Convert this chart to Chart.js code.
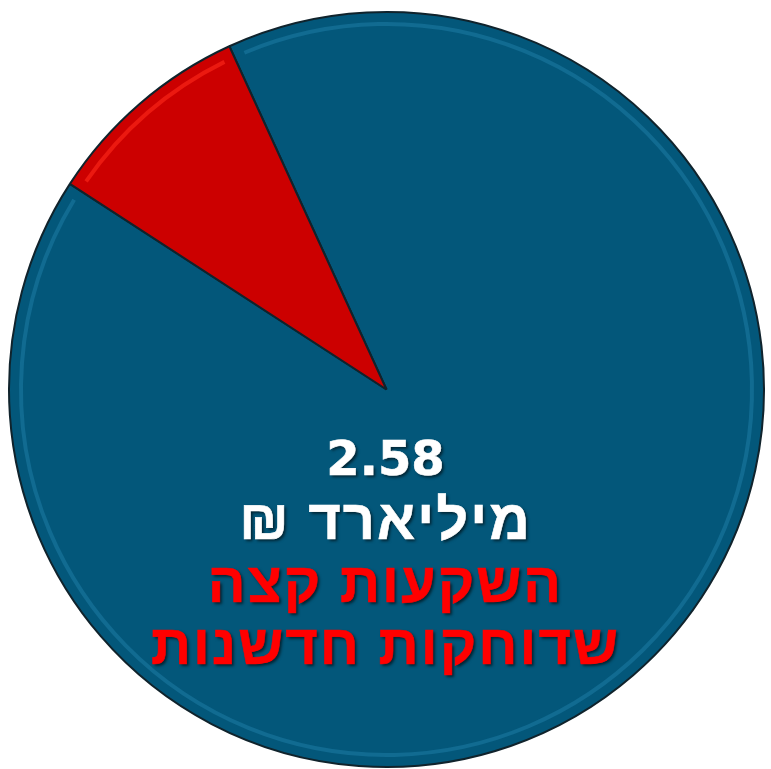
<!DOCTYPE html>
<html>
<head>
<meta charset="utf-8">
<script src="https://cdn.jsdelivr.net/npm/chart.js@4"></script>
<style>
  html, body { margin: 0; padding: 0; background: #fff; }
  #wrap { position: relative; width: 771px; height: 769px; }
  #labels {
    position: absolute; left: 0; top: 0; width: 771px;
    text-align: center; direction: rtl;
    font-family: "Liberation Sans", "DejaVu Sans", sans-serif; font-weight: bold;
    pointer-events: none;
  }
  .ln { position: absolute; left: 0; width: 771px; line-height: 1; white-space: nowrap; letter-spacing: 2px; }
  .w { color: #fff; text-shadow: 2px 2px 3px rgba(0,0,0,0.6); -webkit-text-stroke: 0.6px #fff; }
  .r { color: #ff0000; text-shadow: 2px 2px 3px rgba(0,0,0,0.6); -webkit-text-stroke: 0.6px #ff0000; }
  .num { font-family: "DejaVu Sans", sans-serif; letter-spacing: 0; direction: ltr; }
</style>
</head>
<body>
<div id="wrap">
  <canvas id="myChart" width="771" height="769"></canvas>
  <div id="labels">
    <div class="ln w num" style="top:434px;font-size:48px">2.58</div>
    <div class="ln w" style="top:492px;font-size:56px">מיליארד ₪</div>
    <div class="ln r" style="top:555px;font-size:56px">השקעות קצה</div>
    <div class="ln r" style="top:617px;font-size:56px">שדוחקות חדשנות</div>
  </div>
</div>
<script>
let sliceLabels = ['השקעות אחרות', 'השקעות קצה שדוחקות חדשנות'];
let sliceValues = [91, 9];
let sliceColors = ['#03577a', '#cc0000'];
let rimColors = ['#1a78a0', '#ff2a1a'];

// soft inner rim highlight, like the bevel in the original
const bevel = {
    id: 'bevel',
    afterDatasetsDraw(chart) {
        const c = chart.ctx;
        chart.getDatasetMeta(0).data.forEach((arc, k) => {
            const p = arc.getProps(['x', 'y', 'startAngle', 'endAngle', 'outerRadius']);
            c.save();
            c.beginPath();
            c.arc(p.x, p.y, p.outerRadius - 12, p.startAngle + 0.03, p.endAngle - 0.03);
            c.strokeStyle = rimColors[k];
            c.globalAlpha = 0.6;
            c.lineWidth = 4;
            c.stroke();
            c.restore();
        });
    }
};

const ctx = document.getElementById('myChart');

var chart = new Chart(ctx, {
    type: 'pie',
    data: {
        labels: sliceLabels,
        datasets: [{
            data: sliceValues,
            backgroundColor: sliceColors,
            borderColor: '#10232c',
            borderWidth: 2
        }]
    },
    options: {
        responsive: false,
        animation: false,
        rotation: -24.6,
        layout: { padding: { left: 8, right: 6, top: 11, bottom: 1 } },
        plugins: {
            legend: { display: false },
            tooltip: { enabled: false }
        }
    },
    plugins: [bevel]
});
</script>
</body>
</html>
